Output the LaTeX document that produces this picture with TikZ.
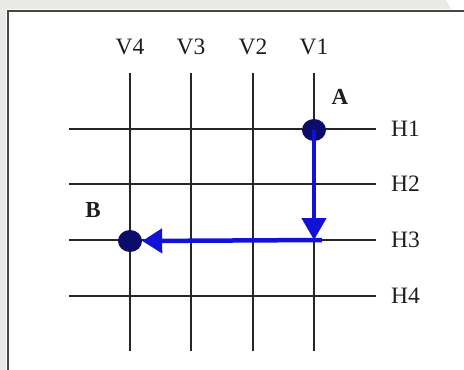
\documentclass[tikz,border=0pt]{standalone}
\usepackage{fontspec}
\setmainfont{Liberation Serif}
\usetikzlibrary{arrows.meta,shapes.geometric}
\definecolor{bggray}{RGB}{233,233,230}
\definecolor{framegray}{RGB}{70,70,70}
\definecolor{pathblue}{RGB}{18,18,215}
\definecolor{dotnavy}{RGB}{12,12,105}
\definecolor{txt}{RGB}{30,30,30}
\tikzset{
  gridline/.style={line width=1.4pt, black!85},
  lbl/.style={font=\fontsize{23.5}{24}\selectfont, text=txt, inner sep=0pt},
  bold lbl/.style={lbl, font=\fontsize{23}{23}\selectfont\bfseries},
  dot/.style={ellipse, fill=dotnavy, minimum width=24pt, minimum height=22pt, inner sep=0pt},
  route/.style={line width=4.5pt, pathblue, -{Triangle[length=22pt,width=24pt]}},
}
\begin{document}
\begin{tikzpicture}[x=1pt,y=-1pt]
\useasboundingbox (0,0) rectangle (464,370);
% background
\fill[white] (0,0) rectangle (464,370);
\fill[bggray] (0,0) -- (446,0) -- (451,9) -- (0,9) -- cycle;
\fill[bggray] (0,0) rectangle (6,370);
% frame
\draw[framegray, line width=2pt] (8,370) -- (8,11) -- (464,11);
% vertical lines
\foreach \x/\n in {130/4,191/3,253/2,314/1}{
  \draw[gridline] (\x,73) -- (\x,351);
  \node[lbl] (V\n) at (\x,47) {V\n};
}
% horizontal lines
\foreach \y/\n in {129/1,184/2,240/3,296/4}{
  \draw[gridline] (69,\y) -- (376,\y);
  \node[lbl, anchor=west] (H\n) at (391,\y) {H\n};
}
% letters
\node[bold lbl] (Alabel) at (340,97) {A};
\node[bold lbl] (Blabel) at (93,210) {B};
% dots
\node[dot] (A) at (314,130) {};
\node[dot] (B) at (130,241) {};
\coordinate (turn) at (314,240);
\coordinate (turnstart) at (322,240);
% route
\draw[route] (A.center) -- (turn);
\draw[route, -{Triangle[length=20pt,width=24pt]}] (turnstart) -- (B.east);
\end{tikzpicture}
\end{document}
